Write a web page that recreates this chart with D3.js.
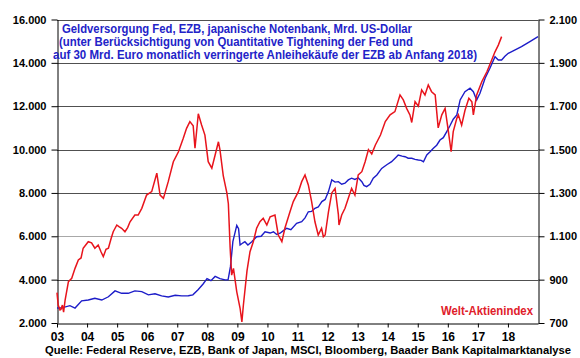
<!DOCTYPE html>
<html>
<head>
<meta charset="utf-8">
<script src="https://cdn.jsdelivr.net/npm/d3@7"></script>
<style>
  body { margin: 0; background: #fff; }
  text { font-family: "Liberation Sans", Arial, sans-serif; font-weight: bold; }
</style>
</head>
<body>
<div id="chart"></div>
<script>
// Geldversorgung (left axis, Mrd. US-Dollar) - decimal years
var moneyT = [2003.0, 2003.16, 2003.43, 2003.6, 2003.82, 2004.04, 2004.26, 2004.49, 2004.71, 2004.93,
  2005.15, 2005.37, 2005.59, 2005.82, 2006.04, 2006.26, 2006.48, 2006.7, 2006.93, 2007.15,
  2007.37, 2007.52, 2007.7, 2007.86, 2007.99, 2008.12, 2008.26, 2008.42, 2008.59, 2008.69,
  2008.77, 2008.85, 2008.98, 2009.04, 2009.09, 2009.19, 2009.25, 2009.35, 2009.48, 2009.64,
  2009.79, 2009.92, 2010.09, 2010.2, 2010.31, 2010.42, 2010.52, 2010.64, 2010.78, 2010.97,
  2011.14, 2011.25, 2011.36, 2011.47, 2011.58, 2011.69, 2011.81, 2011.92, 2012.03, 2012.14,
  2012.25, 2012.36, 2012.47, 2012.58, 2012.69, 2012.8, 2012.91, 2013.02, 2013.14, 2013.21,
  2013.3, 2013.41, 2013.52, 2013.64, 2013.8, 2013.97, 2014.13, 2014.28, 2014.35, 2014.48,
  2014.58, 2014.68, 2014.8, 2014.91, 2015.02, 2015.11, 2015.19, 2015.3, 2015.41, 2015.52,
  2015.63, 2015.74, 2015.85, 2015.96, 2016.07, 2016.18, 2016.3, 2016.41, 2016.57, 2016.74,
  2016.85, 2016.96, 2017.07, 2017.24, 2017.4, 2017.57, 2017.68, 2017.79, 2017.9, 2018.01,
  2018.24, 2018.45, 2018.73, 2019.0];
var moneyV = [2690, 2700, 2800, 2690, 3020, 3060, 3140, 3060, 3210, 3480,
  3370, 3370, 3480, 3450, 3300, 3350, 3250, 3200, 3280, 3250,
  3260, 3300, 3550, 3800, 4050, 3950, 4150, 4050, 3990, 3990,
  4600, 5750, 6500, 6350, 5600, 5700, 5750, 5600, 5750, 5980,
  6000, 6210, 6150, 6210, 6080, 6140, 6250, 6370, 6300, 6600,
  6670, 6850, 7130, 7150, 7290, 7350, 7600, 7700, 8060, 8600,
  8500, 8520, 8400, 8450, 8600, 8680, 8620, 8700, 8520, 8350,
  8290, 8400, 8680, 8830, 9130, 9300, 9440, 9650, 9750, 9700,
  9670, 9600, 9600, 9550, 9520, 9500, 9440, 9750, 9900, 10060,
  10200, 10440, 10550, 10820, 11100, 11400, 11600, 12290, 12670, 12830,
  12670, 12290, 12600, 13290, 13750, 14280, 14130, 14130, 14300, 14440,
  14600, 14750, 14980, 15210];

// Welt-Aktienindex (right axis)
var stockT = [2003.0, 2003.04, 2003.1, 2003.13, 2003.18, 2003.22, 2003.27, 2003.38, 2003.49, 2003.6,
  2003.71, 2003.8, 2003.87, 2004.04, 2004.15, 2004.26, 2004.37, 2004.46, 2004.54, 2004.63,
  2004.71, 2004.8, 2004.87, 2004.99, 2005.06, 2005.15, 2005.26, 2005.35, 2005.43, 2005.59,
  2005.7, 2005.82, 2005.98, 2006.15, 2006.32, 2006.43, 2006.54, 2006.7, 2006.87, 2007.04,
  2007.2, 2007.31, 2007.42, 2007.53, 2007.59, 2007.7, 2007.81, 2007.92, 2008.03, 2008.15,
  2008.26, 2008.37, 2008.42, 2008.53, 2008.65, 2008.7, 2008.76, 2008.81, 2008.87, 2008.98,
  2009.09, 2009.15, 2009.2, 2009.32, 2009.42, 2009.53, 2009.64, 2009.75, 2009.86, 2009.98,
  2010.09, 2010.25, 2010.36, 2010.48, 2010.58, 2010.75, 2010.86, 2010.97, 2011.03, 2011.14,
  2011.25, 2011.36, 2011.47, 2011.58, 2011.69, 2011.8, 2011.86, 2011.92, 2012.03, 2012.14,
  2012.25, 2012.36, 2012.38, 2012.47, 2012.58, 2012.69, 2012.8, 2012.91, 2013.02, 2013.14,
  2013.25, 2013.36, 2013.47, 2013.59, 2013.76, 2013.92, 2014.08, 2014.24, 2014.41, 2014.52,
  2014.63, 2014.74, 2014.8, 2014.91, 2015.02, 2015.13, 2015.24, 2015.35, 2015.46, 2015.58,
  2015.68, 2015.8, 2015.91, 2016.02, 2016.11, 2016.18, 2016.3, 2016.35, 2016.46, 2016.57,
  2016.7, 2016.8, 2016.85, 2016.96, 2017.13, 2017.3, 2017.46, 2017.57, 2017.68, 2017.79];
var stockV = [840, 783, 760, 762, 783, 750, 806, 891, 906, 952,
  991, 1000, 1045, 1075, 1070, 1045, 1060, 1030, 1006, 1040,
  1045, 1090, 1121, 1152, 1145, 1137, 1121, 1140, 1167, 1198,
  1198, 1229, 1290, 1306, 1391, 1290, 1275, 1352, 1444, 1490,
  1552, 1598, 1629, 1610, 1506, 1665, 1613, 1567, 1444, 1414,
  1475, 1536, 1500, 1380, 1300, 1250, 1045, 921, 952, 844,
  768, 705, 783, 940, 1029, 1075, 1137, 1167, 1183, 1152,
  1190, 1198, 1106, 1075, 1137, 1213, 1260, 1290, 1306, 1352,
  1383, 1337, 1260, 1167, 1106, 1137, 1098, 1106, 1213, 1300,
  1321, 1200, 1152, 1198, 1229, 1275, 1321, 1290, 1383, 1398,
  1444, 1500, 1480, 1521, 1567, 1629, 1660, 1675, 1752, 1729,
  1690, 1660, 1625, 1721, 1700, 1775, 1752, 1798, 1767, 1752,
  1600, 1660, 1690, 1583, 1490, 1583, 1644, 1660, 1613, 1680,
  1737, 1720, 1660, 1752, 1813, 1859, 1913, 1951, 1982, 2021];

var leftTicks = [2000, 4000, 6000, 8000, 10000, 12000, 14000, 16000];
var rightTicks = [700, 900, 1100, 1300, 1500, 1700, 1900, 2100];
var yearTicks = [2003, 2004, 2005, 2006, 2007, 2008, 2009, 2010, 2011, 2012, 2013, 2014, 2015, 2016, 2017, 2018];

var titleLines = [
  "Geldversorgung Fed, EZB, japanische Notenbank, Mrd. US-Dollar",
  "(unter Berücksichtigung von Quantitative Tightening der Fed und",
  "auf 30 Mrd. Euro monatlich verringerte Anleihekäufe der EZB ab Anfang 2018)"
];

var width = 580, height = 358;
var plotL = 57, plotR = 538, plotT = 19.5, plotB = 323;

var de = d3.formatLocale({ decimal: ",", thousands: ".", grouping: [3], currency: ["", " €"] });
var fmt = de.format(",.0f");

var svg = d3.select("#chart").append("svg")
    .attr("width", width)
    .attr("height", height)
    .style("background", "#fff");

var x = d3.scaleLinear().domain([2003, 2019]).range([plotL, plotR]);
var yL = d3.scaleLinear().domain([2000, 16000]).range([plotB, plotT]);
var yR = d3.scaleLinear().domain([700, 2100]).range([plotB, plotT]);

// gridlines
svg.append("g")
  .selectAll("line")
  .data(leftTicks.slice(1))
  .enter()
  .append("line")
    .attr("x1", plotL)
    .attr("x2", plotR)
    .attr("y1", function(d){ return Math.round(yL(d)) + 0.5 })
    .attr("y2", function(d){ return Math.round(yL(d)) + 0.5 })
    .style("stroke", function(d){ return d == 6000 ? "#a8a8a8" : "#505050" })
    .style("stroke-width", 1);

// left axis
var gl = svg.append("g")
    .attr("transform", "translate(" + (plotL + 0.5) + ",0)")
    .call(d3.axisLeft(yL).tickValues(leftTicks).tickFormat(fmt).tickSize(6).tickSizeOuter(0).tickPadding(5));

// right axis
var gr = svg.append("g")
    .attr("transform", "translate(" + (plotR + 0.5) + ",0)")
    .call(d3.axisRight(yR).tickValues(rightTicks).tickFormat(fmt).tickSize(6).tickSizeOuter(0).tickPadding(5));

// x axis
var gx = svg.append("g")
    .attr("transform", "translate(0," + (Math.round(plotB) + 0.5) + ")")
    .call(d3.axisBottom(x).tickValues(yearTicks)
      .tickFormat(function(d){ return String(d).slice(2) })
      .tickSize(4).tickSizeOuter(0).tickPadding(5));

[gl, gr].forEach(function(g){
  g.selectAll("text").style("font-size", "11px").style("fill", "#000");
  g.selectAll("line, path").style("stroke", "#000");
});
gx.selectAll("text").style("font-size", "12px").style("fill", "#000");
gx.selectAll("line, path").style("stroke", "#000");

// series
var moneyData = moneyT.map(function(t, i){ return { t: t, v: moneyV[i] } });
var stockData = stockT.map(function(t, i){ return { t: t, v: stockV[i] } });

svg.append("path")
    .datum(moneyData)
    .attr("d", d3.line().x(function(d){ return x(d.t) }).y(function(d){ return yL(d.v) }))
    .style("fill", "none")
    .style("stroke", "#1c1cc8")
    .style("stroke-width", 1.4);

svg.append("path")
    .datum(stockData)
    .attr("d", d3.line().x(function(d){ return x(d.t) }).y(function(d){ return yR(d.v) }))
    .style("fill", "none")
    .style("stroke", "#e8141c")
    .style("stroke-width", 1.5);

// title
var titleX = [62, 59, 53];
var titleW = [350, 354, 424];
svg.append("g")
  .selectAll("text")
  .data(titleLines)
  .enter()
  .append("text")
    .attr("x", function(d, i){ return titleX[i] })
    .attr("y", function(d, i){ return 33 + i * 13 })
    .attr("textLength", function(d, i){ return titleW[i] })
    .attr("lengthAdjust", "spacingAndGlyphs")
    .style("font-size", "12px")
    .style("fill", "#2323c8")
    .text(function(d){ return d });

svg.append("text")
    .attr("x", 533)
    .attr("y", 315)
    .attr("text-anchor", "end")
    .attr("textLength", 92)
    .attr("lengthAdjust", "spacingAndGlyphs")
    .style("font-size", "12px")
    .style("fill", "#e0202a")
    .text("Welt-Aktienindex");

svg.append("text")
    .attr("x", 45)
    .attr("y", 354)
    .attr("textLength", 526)
    .attr("lengthAdjust", "spacingAndGlyphs")
    .style("font-size", "11px")
    .style("fill", "#000")
    .text("Quelle: Federal Reserve, EZB, Bank of Japan, MSCI, Bloomberg, Baader Bank Kapitalmarktanalyse");
</script>
</body>
</html>
